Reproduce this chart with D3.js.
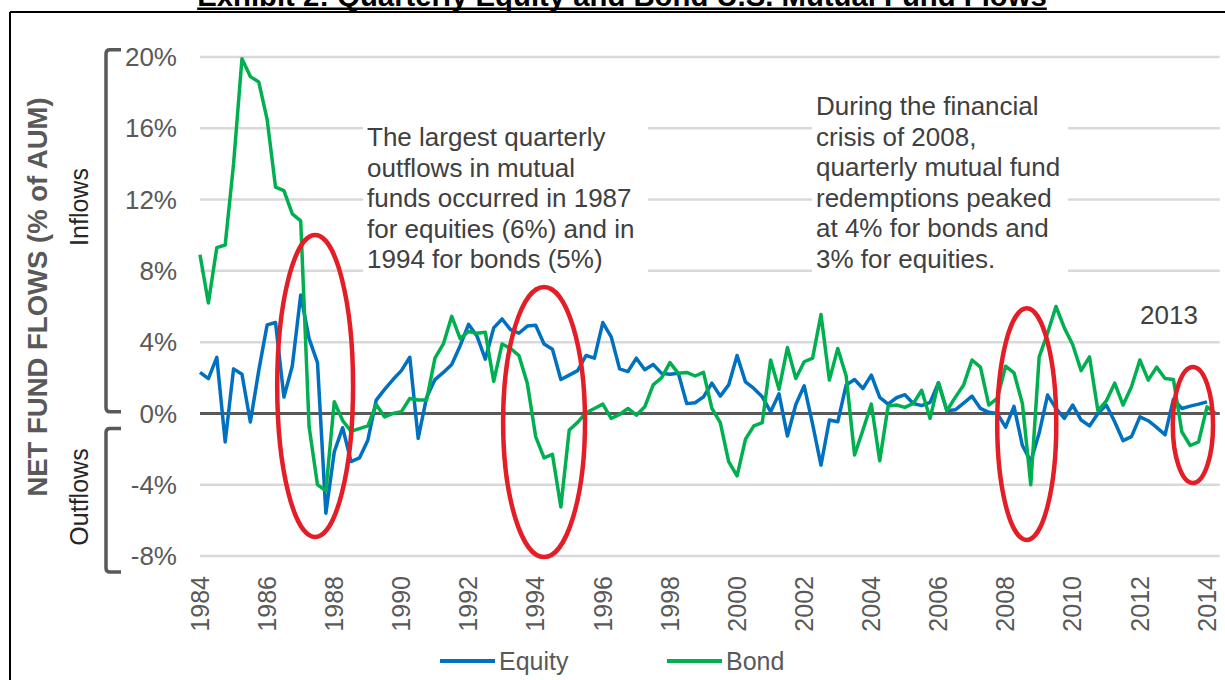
<!DOCTYPE html>
<html>
<head>
<meta charset="utf-8">
<script src="https://cdn.jsdelivr.net/npm/d3@7"></script>
<style>
  body { margin: 0; background: #fff; }
  svg { display: block; font-family: Arial, "Liberation Sans", sans-serif; }
</style>
</head>
<body>
<svg id="chart" width="1225" height="680"></svg>
<script>
// quarterly net flows, % of AUM, starting 1984 Q1
var startYear = 1984;
var equity = [
  2.3, 1.95, 3.15, -1.6, 2.5, 2.2, -0.48, 2.4, 4.97, 5.1,
  0.92, 2.66, 6.65, 4.2, 2.85, -5.6, -2.16, -0.8, -2.7, -2.5,
  -1.5, 0.75, 1.35, 1.9, 2.4, 3.15, -1.4, 0.9, 1.9, 2.3,
  2.75, 3.8, 5.0, 4.35, 3.05, 4.8, 5.3, 4.7, 4.5, 4.9,
  4.95, 3.9, 3.6, 1.9, 2.15, 2.4, 3.25, 3.1, 5.1, 4.3,
  2.5, 2.35, 3.1, 2.45, 2.75, 2.25, 2.2, 2.25, 0.55, 0.6,
  0.93, 1.7, 0.97, 1.6, 3.25, 1.77, 1.4, 0.93, 0.1, 1.1,
  -1.27, 0.5, 1.55, -0.6, -2.9, -0.37, -0.47, 1.6, 1.9, 1.4,
  2.15, 0.9, 0.52, 0.88, 1.05, 0.56, 0.44, 0.62, 1.72, 0.15,
  0.2, 0.58, 0.97, 0.28, 0.06, 0.0, -0.77, 0.4, -1.8, -2.7,
  -1.1, 1.03, 0.28, -0.28, 0.47, -0.37, -0.7, 0.0, 0.47, -0.47,
  -1.53, -1.3, -0.19, -0.41, -0.78, -1.2, 0.8, 0.28, 0.41, 0.52,
  0.65
];
var bond = [
  8.9, 6.2, 9.3, 9.45, 14.0, 19.9, 18.9, 18.6, 16.5, 12.7,
  12.5, 11.2, 10.8, -0.75, -4.0, -4.35, 0.66, -0.4, -1.0, -0.85,
  -0.7, 0.5, -0.2, 0.0, 0.1, 0.84, 0.75, 0.75, 3.1, 3.9,
  5.45, 4.2, 4.6, 4.5, 4.55, 1.8, 3.9, 3.65, 3.25, 1.7,
  -1.3, -2.5, -2.3, -5.25, -0.93, -0.5, 0.04, 0.28, 0.52, -0.28,
  -0.06, 0.28, -0.1, 0.37, 1.6, 2.0, 2.85, 2.25, 2.3, 2.1,
  2.3, 0.28, -0.52, -2.7, -3.5, -1.45, -0.7, -0.52, 3.0, 1.35,
  3.7, 1.96, 2.9, 3.1, 5.55, 1.87, 3.64, 2.1, -2.33, -0.93,
  0.52, -2.65, 0.41, 0.47, 0.34, 0.56, 1.3, -0.28, 1.72, 0.15,
  0.9, 1.6, 3.0, 2.6, 0.47, 0.84, 2.65, 2.28, 0.56, -4.0,
  3.17, 4.5, 6.0, 4.8, 3.85, 2.4, 3.17, 0.15, 0.7, 1.7,
  0.47, 1.5, 3.0, 1.87, 2.6, 1.96, 1.9, -1.03, -1.8, -1.6,
  0.37, 0.0
];
var yTicks = [-8, -4, 0, 4, 8, 12, 16, 20];
var xTicks = [1984, 1986, 1988, 1990, 1992, 1994, 1996, 1998, 2000,
              2002, 2004, 2006, 2008, 2010, 2012, 2014];
var seriesNames = ['Equity', 'Bond'];

var note1 = ['The largest quarterly', 'outflows in mutual', 'funds occurred in 1987',
             'for equities (6%) and in', '1994 for bonds (5%)'];
var note2 = ['During the financial', 'crisis of 2008,', 'quarterly mutual fund',
             'redemptions peaked', 'at 4% for bonds and', '3% for equities.'];

var blue = '#0070c0', green = '#00b050', red = '#e41e26', grey = '#595959';

var svg = d3.select('#chart');
var x = d3.scaleLinear().domain([1984, 2014]).range([200, 1207]);
var y = d3.scaleLinear().domain([-8, 20]).range([556, 57]);
var xEnd = 2014.38;

// frame + title
svg.append('line').attr('x1', 10).attr('x2', 1225).attr('y1', 12).attr('y2', 12)
  .attr('stroke', '#000').attr('stroke-width', 2);
svg.append('line').attr('x1', 10).attr('x2', 10).attr('y1', 12).attr('y2', 680)
  .attr('stroke', '#000').attr('stroke-width', 2);
var title = svg.append('text').attr('x', 622).attr('y', 6)
  .attr('text-anchor', 'middle').attr('font-weight', 'bold').attr('font-size', 29.3)
  .attr('fill', '#000').text('Exhibit 2: Quarterly Equity and Bond U.S. Mutual Fund Flows');
var tw = title.node().getComputedTextLength();
svg.append('rect').attr('x', 622 - tw / 2).attr('y', 7.5).attr('width', tw).attr('height', 2.5).attr('fill', '#000');

// gridlines
svg.append('g').selectAll('line').data(yTicks.filter(function(d) { return d != 0; }))
  .enter().append('line')
  .attr('x1', x(1984)).attr('x2', x(xEnd))
  .attr('y1', function(d) { return y(d); }).attr('y2', function(d) { return y(d); })
  .attr('stroke', '#d9d9d9').attr('stroke-width', 2.5);

// y labels
svg.append('g').selectAll('text').data(yTicks).enter().append('text')
  .attr('x', 177).attr('y', function(d) { return y(d); }).attr('dy', '0.35em')
  .attr('text-anchor', 'end').attr('font-size', 26).attr('fill', grey)
  .text(function(d) { return d + '%'; });

// x labels, rotated
svg.append('g').selectAll('text').data(xTicks).enter().append('text')
  .attr('transform', function(d) { return 'translate(' + x(d) + ',576) rotate(-90)'; })
  .attr('dy', '0.35em').attr('text-anchor', 'end').attr('font-size', 25).attr('fill', grey)
  .text(function(d) { return d; });

// axis titles and brackets
svg.append('text').attr('transform', 'translate(37,297) rotate(-90)')
  .attr('dy', '0.35em').attr('text-anchor', 'middle').attr('font-size', 27.5)
  .attr('font-weight', 'bold').attr('fill', grey).text('NET FUND FLOWS (% of AUM)');
svg.append('text').attr('transform', 'translate(79,207) rotate(-90)')
  .attr('dy', '0.35em').attr('text-anchor', 'middle').attr('font-size', 25)
  .attr('fill', '#262626').text('Inflows');
svg.append('text').attr('transform', 'translate(79,497) rotate(-90)')
  .attr('dy', '0.35em').attr('text-anchor', 'middle').attr('font-size', 25)
  .attr('fill', '#262626').text('Outflows');

function bracket(top, bottom) {
  var bx = 106, hx = 121, t = y(top), b = y(bottom);
  return 'M' + hx + ',' + t + ' L' + (bx + 4) + ',' + t + ' Q' + bx + ',' + t + ' ' + bx + ',' + (t + 4) +
         ' L' + bx + ',' + (b - 4) + ' Q' + bx + ',' + b + ' ' + (bx + 4) + ',' + b + ' L' + hx + ',' + b;
}
svg.append('path').attr('d', bracket(20.4, 0.1)).attr('fill', 'none').attr('stroke', grey).attr('stroke-width', 3.5);
svg.append('path').attr('d', bracket(-0.85, -8.9)).attr('fill', 'none').attr('stroke', grey).attr('stroke-width', 3.5);

// notes with white boxes over the gridlines
function note(lines, x0, y0, w) {
  svg.append('rect').attr('x', x0 - 4).attr('y', y0 - 26).attr('width', w)
    .attr('height', lines.length * 30.6 + 8).attr('fill', '#fff');
  var t = svg.append('text').attr('font-size', 26).attr('fill', '#404040');
  lines.forEach(function(l, i) {
    t.append('tspan').attr('x', x0).attr('y', y0 + i * 30.6).text(l);
  });
}
note(note1, 367, 146, 285);
note(note2, 816, 115, 256);
svg.append('rect').attr('x', 1134).attr('y', 298).attr('width', 72).attr('height', 40).attr('fill', '#fff');
svg.append('text').attr('x', 1140).attr('y', 324).attr('font-size', 26).attr('fill', '#404040').text('2013');

// zero line
svg.append('line').attr('x1', x(1984)).attr('x2', x(xEnd)).attr('y1', y(0)).attr('y2', y(0))
  .attr('stroke', grey).attr('stroke-width', 3);

// series
var line = d3.line()
  .x(function(d, i) { return x(startYear + i / 4); })
  .y(function(d) { return y(d); });
svg.append('path').datum(equity).attr('d', line).attr('fill', 'none')
  .attr('stroke', blue).attr('stroke-width', 3.5).attr('stroke-linejoin', 'round');
svg.append('path').datum(bond).attr('d', line).attr('fill', 'none')
  .attr('stroke', green).attr('stroke-width', 3.5).attr('stroke-linejoin', 'round');

// red rings (centre year, centre value, half width in years, half height in %)
var rings = [[1987.43, 1.54, 1.13, 8.47], [1994.25, -0.48, 1.22, 7.58],
             [2008.63, -0.6, 0.88, 6.5], [2013.58, -0.65, 0.6, 3.25]];
svg.append('g').selectAll('ellipse').data(rings).enter().append('ellipse')
  .attr('cx', function(d) { return x(d[0]); }).attr('cy', function(d) { return y(d[1]); })
  .attr('rx', function(d) { return x(d[0] + d[2]) - x(d[0]); })
  .attr('ry', function(d) { return y(d[1] - d[3]) - y(d[1]); })
  .attr('fill', 'none').attr('stroke', red).attr('stroke-width', 4.5);

// legend
var legend = svg.append('g').selectAll('g').data(seriesNames).enter().append('g')
  .attr('transform', function(d, i) { return 'translate(' + (440 + i * 227) + ',661)'; });
legend.append('line').attr('x1', 0).attr('x2', 55).attr('stroke-width', 4)
  .attr('stroke', function(d, i) { return i == 0 ? blue : green; });
legend.append('text').attr('x', 59).attr('dy', '0.35em').attr('font-size', 25).attr('fill', grey)
  .text(function(d) { return d; });
</script>
</body>
</html>
